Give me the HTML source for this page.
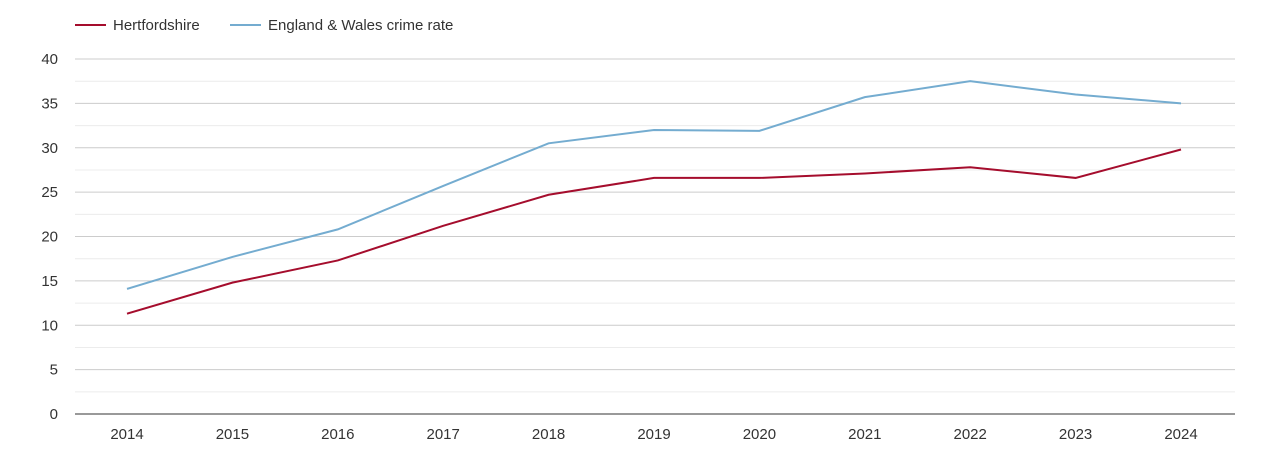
<!DOCTYPE html>
<html><head><meta charset="utf-8">
<style>
body{margin:0;background:#fff;font-family:"Liberation Sans",sans-serif;}
svg text{font-family:"Liberation Sans",sans-serif;fill:#333;}
</style></head>
<body>
<svg id="chart" width="1270" height="450">
  <g>
    <line x1="75" y1="25" x2="106" y2="25" stroke="#a50d2d" stroke-width="2"/>
    <text x="113" y="30" font-size="15">Hertfordshire</text>
    <line x1="230" y1="25" x2="261" y2="25" stroke="#74acd0" stroke-width="2"/>
    <text x="268" y="30" font-size="15">England &amp; Wales crime rate</text>
  </g>
  <g id="grid"></g>
  <g id="axes"></g>
  <g id="series"></g>
</svg>
<script>
const years=[2014,2015,2016,2017,2018,2019,2020,2021,2022,2023,2024];
const herts=[11.3,14.8,17.3,21.2,24.7,26.6,26.6,27.1,27.8,26.6,29.8];
const ew=[14.1,17.7,20.8,25.7,30.5,32.0,31.9,35.7,37.5,36.0,35.0];
const yTicks=[0,5,10,15,20,25,30,35,40];
const NS="http://www.w3.org/2000/svg";
const left=75,right=1235,y0=414,y40=59;
const ys=v=>y0-(v/40)*(y0-y40);
const xs=i=>127+i*(1181-127)/(years.length-1);
function mk(t,a,p){const e=document.createElementNS(NS,t);for(const k in a)e.setAttribute(k,a[k]);p.appendChild(e);return e;}
const grid=document.getElementById('grid'),axes=document.getElementById('axes'),ser=document.getElementById('series');
for(let v=2.5;v<40;v+=5){const l=mk('line',{x1:left,x2:right,y1:ys(v),y2:ys(v),stroke:'#ececec'},grid);

}
yTicks.forEach(v=>{
  if(v>0){const l=mk('line',{x1:left,x2:right,y1:ys(v),y2:ys(v),stroke:'#cccccc'},grid);
  
  }
  const t=mk('text',{x:58,y:ys(v)+5,'font-size':15,'text-anchor':'end'},axes);t.textContent=v;
  
  
});
const ax=mk('line',{x1:left,x2:right,y1:y0,y2:y0,stroke:'#333'},axes);


years.forEach((y,i)=>{const t=mk('text',{x:xs(i),y:439,'font-size':15,'text-anchor':'middle'},axes);t.textContent=y;

});
function line(d,c,n){const p=mk('polyline',{points:d.map((v,i)=>xs(i)+','+ys(v)).join(' '),fill:'none',stroke:c,'stroke-width':2},ser);

}
line(ew,'#74acd0','england-wales-line');
line(herts,'#a50d2d','hertfordshire-line');
</script>
</body></html>
